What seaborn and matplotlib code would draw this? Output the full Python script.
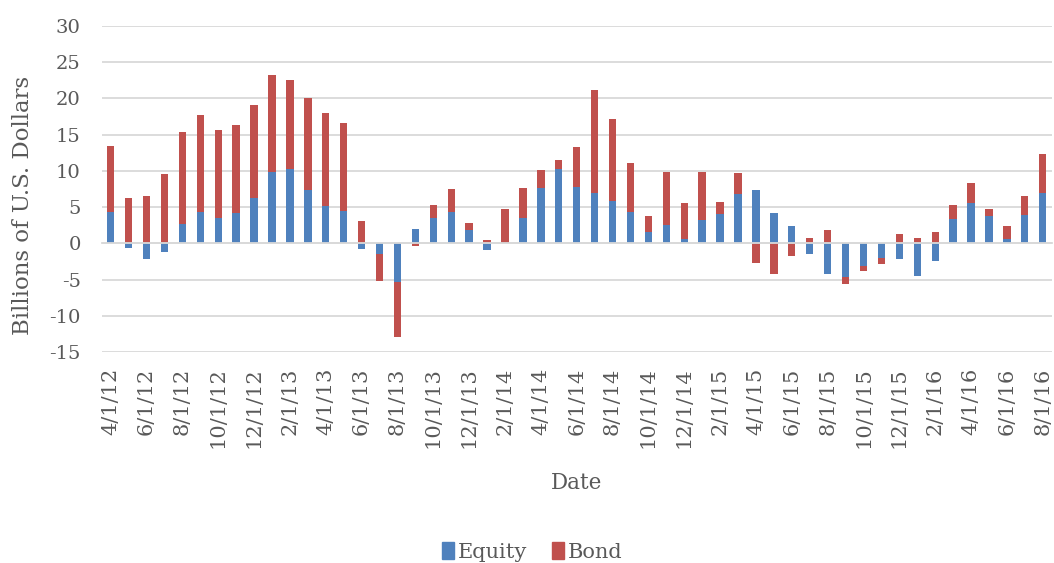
import pandas as pd
import matplotlib
matplotlib.use("Agg")
import matplotlib.pyplot as plt
import seaborn as sns
import numpy as np
from matplotlib.patches import Patch

# Monthly flows, billions of U.S. dollars
dates = pd.date_range("2012-04-01", "2016-08-01", freq="MS")
equity = [4.3, -0.7, -2.1, -1.25, 2.7, 4.3, 3.5, 4.2, 6.3, 9.9, 10.2, 7.4, 5.1,
          4.4, -0.8, -1.5, -5.3, 2.0, 3.5, 4.3, 1.85, -0.9, 0.0, 3.5, 7.7, 10.2, 7.8,
          6.9, 5.9, 4.3, 1.6, 2.55, 0.6, 3.2, 4.1, 6.8, 7.4, 4.2, 2.4, -1.5,
          -4.3, -4.7, -3.15, -2.0, -2.1, -4.5, -2.4, 3.3, 5.55, 3.8, 0.6, 3.85, 6.9]
bond = [9.1, 6.2, 6.5, 9.6, 12.6, 13.4, 12.1, 12.1, 12.8, 13.4, 12.4, 12.6, 12.9,
        12.2, 3.15, -3.7, -7.6, -0.4, 1.8, 3.2, 0.9, 0.5, 4.7, 4.2, 2.4, 1.3, 5.5,
        14.3, 11.2, 6.8, 2.2, 7.25, 4.9, 6.6, 1.55, 2.9, -2.7, -4.2, -1.7, 0.8,
        1.8, -0.9, -0.6, -0.9, 1.25, 0.8, 1.5, 2.0, 2.75, 0.9, 1.85, 2.75, 5.5]

labels = [f"{d.month}/{d.day}/{d.strftime('%y')}" for d in dates]

df = pd.DataFrame({"Date": labels, "Equity": equity, "Bond": bond})
# Excel-style stacking: bond sits on equity when the signs match, otherwise from zero
same_sign = np.sign(df["Equity"]) == np.sign(df["Bond"])
df["BondTop"] = np.where(same_sign, df["Equity"] + df["Bond"], df["Bond"])

blue = "#4F81BD"
red = "#C0504D"
grey_text = "#595959"
grid_col = "#D9D9D9"

sns.set_style("white")
plt.rcParams["font.family"] = ["DejaVu Serif"]
plt.rcParams["axes.unicode_minus"] = False

fig = plt.figure(figsize=(10.54, 5.63), dpi=100)
ax = fig.add_axes([101.7 / 1054, 1 - 352 / 563, 950 / 1054, 326 / 563])

sns.barplot(data=df, x="Date", y="BondTop", color=red, width=0.41,
            saturation=1, ax=ax, zorder=3, edgecolor="none")
sns.barplot(data=df, x="Date", y="Equity", color=blue, width=0.41,
            saturation=1, ax=ax, zorder=4, edgecolor="none")

ax.set_xlim(-0.5, len(df) - 0.5)
ax.set_ylim(-15, 30)
ax.set_yticks(range(-15, 31, 5))
ax.yaxis.grid(True, color=grid_col, linewidth=1.3, zorder=0)
ax.tick_params(axis="y", length=0, labelsize=14, labelcolor=grey_text, pad=15)

for s in ["top", "right", "left"]:
    ax.spines[s].set_visible(False)
ax.spines["bottom"].set_position(("data", 0))
ax.spines["bottom"].set_color(grid_col)
ax.spines["bottom"].set_linewidth(1.3)
ax.spines["bottom"].set_zorder(5)

# small boundary ticks on the zero line, labels at the bottom
ax.set_xticks(np.arange(-0.5, len(df), 2), minor=True)
ax.tick_params(axis="x", which="minor", length=7, width=1.3, color=grid_col, direction="out")
ax.tick_params(axis="x", which="major", length=0, labelbottom=False)
ax.set_xlabel("")
ax.set_ylabel("Billions of U.S. Dollars", fontsize=16.5, color=grey_text)
ax.yaxis.set_label_coords(-0.071, 0.45)

sec = ax.secondary_xaxis("bottom")
sec.set_xticks(range(0, len(df), 2), labels[::2], rotation=90)
sec.tick_params(length=0, labelsize=15, labelcolor=grey_text, pad=11)
sec.spines["bottom"].set_visible(False)
sec.set_xlabel("Date", fontsize=15.5, color=grey_text, labelpad=17)

handles = [Patch(color=blue, label="Equity"), Patch(color=red, label="Bond")]
leg = fig.legend(handles=handles, loc="center", bbox_to_anchor=(0.505, 1 - 552 / 563),
                 ncol=2, frameon=False, fontsize=15, handlelength=0.55, handleheight=0.9,
                 handletextpad=0.2, columnspacing=1.2)
for t in leg.get_texts():
    t.set_color(grey_text)

fig.savefig("out.png", dpi=100)
